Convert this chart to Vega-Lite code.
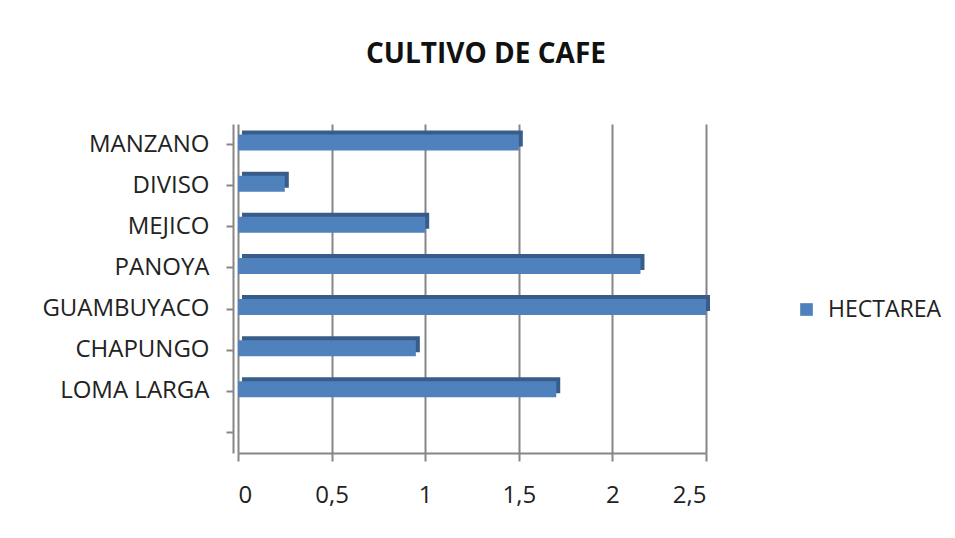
{
  "$schema": "https://vega.github.io/schema/vega-lite/v6.json",
  "width": 468,
  "height": 329,
  "padding": {"left": 41, "top": 41, "right": 5, "bottom": 5},
  "background": "white",
  "title": {
    "text": "CULTIVO DE CAFE",
    "font": "Open Sans",
    "fontSize": 28,
    "fontWeight": "bold",
    "color": "#111111",
    "offset": 55,
    "dx": 14,
    "anchor": "middle"
  },
  "data": {
    "values": [
      {"lugar": "MANZANO", "serie": "HECTAREA", "hectarea": 1.5},
      {"lugar": "DIVISO", "serie": "HECTAREA", "hectarea": 0.25},
      {"lugar": "MEJICO", "serie": "HECTAREA", "hectarea": 1.0},
      {"lugar": "PANOYA", "serie": "HECTAREA", "hectarea": 2.15},
      {"lugar": "GUAMBUYACO", "serie": "HECTAREA", "hectarea": 2.5},
      {"lugar": "CHAPUNGO", "serie": "HECTAREA", "hectarea": 0.95},
      {"lugar": "LOMA LARGA", "serie": "HECTAREA", "hectarea": 1.7}
    ]
  },
  "encoding": {
    "y": {
      "field": "lugar",
      "type": "nominal",
      "sort": null,
      "scale": {
        "domain": ["MANZANO", "DIVISO", "MEJICO", "PANOYA", "GUAMBUYACO", "CHAPUNGO", "LOMA LARGA", " "],
        "paddingInner": 0.55,
        "paddingOuter": 0.275
      },
      "axis": {
        "title": null,
        "labelFont": "Open Sans",
        "labelFontSize": 24,
        "labelColor": "#222222",
        "labelPadding": 17,
        "tickSize": 7,
        "tickColor": "#868686",
        "tickWidth": 2,
        "domainColor": "#868686",
        "domainWidth": 2,
        "offset": 5,
        "grid": false
      }
    },
    "x": {
      "field": "hectarea",
      "type": "quantitative",
      "scale": {"domain": [0, 2.5], "nice": false},
      "axis": {
        "title": null,
        "values": [0, 0.5, 1, 1.5, 2, 2.5],
        "labelExpr": "replace(toString(datum.value), '.', ',')",
        "labelFont": "Open Sans",
        "labelFontSize": 24,
        "labelColor": "#222222",
        "labelPadding": 22,
        "tickSize": 8,
        "tickColor": "#868686",
        "tickWidth": 2,
        "domainColor": "#868686",
        "domainWidth": 2,
        "grid": true,
        "gridColor": "#868686",
        "gridWidth": 2
      }
    }
  },
  "layer": [
    {
      "mark": {"type": "bar", "size": 16, "color": "#385d8a", "xOffset": 4, "yOffset": -6},
      "encoding": {}
    },
    {
      "mark": {"type": "bar", "size": 16, "yOffset": -2},
      "encoding": {
        "color": {
          "field": "serie",
          "type": "nominal",
          "scale": {"range": ["#4f81bd"]},
          "legend": {
            "title": null,
            "orient": "none",
            "legendX": 557,
            "legendY": 174,
            "labelFont": "Open Sans",
            "labelFontSize": 23,
            "labelColor": "#222222",
            "symbolType": "square",
            "symbolSize": 160,
            "symbolStrokeWidth": 0,
            "labelOffset": 10
          }
        }
      }
    }
  ],
  "config": {
    "view": {"stroke": null}
  }
}
